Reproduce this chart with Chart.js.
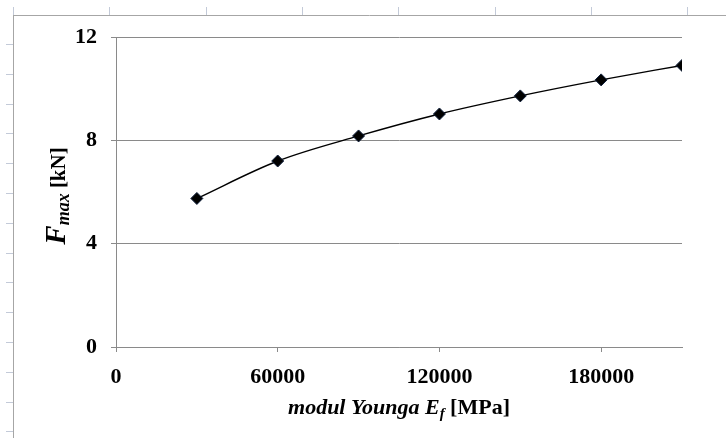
<!DOCTYPE html>
<html>
<head>
<meta charset="utf-8">
<script src="https://cdn.jsdelivr.net/npm/chart.js@4.4.1/dist/chart.umd.min.js"></script>
<style>
  html, body { margin: 0; padding: 0; background: #fff; }
</style>
</head>
<body>
<canvas id="chart" width="726" height="438"></canvas>
<script>
const modulusValues = [30000, 60000, 90000, 120000, 150000, 180000, 210000];
const forceValues = [5.75, 7.2, 8.17, 9.02, 9.72, 10.34, 10.9];
const xTickValues = [0, 60000, 120000, 180000];
const yTickValues = [0, 4, 8, 12];

const serif = "'Liberation Serif', 'Times New Roman', serif";
const gridGray = '#8a8a8a';

// draw a run of text pieces with different fonts, centred on x
function drawParts(ctx, parts, cx, baseY) {
  let total = 0;
  parts.forEach(p => { ctx.font = p.font; total += ctx.measureText(p.text).width; });
  let x = cx - total / 2;
  parts.forEach(p => {
    ctx.font = p.font;
    ctx.fillText(p.text, x, baseY + (p.dy || 0));
    x += ctx.measureText(p.text).width;
  });
}

// the spreadsheet edge around the chart
const sheetFrame = {
  id: 'sheetFrame',
  beforeDraw(chart) {
    const ctx = chart.ctx;
    ctx.save();
    ctx.lineWidth = 1;
    ctx.strokeStyle = '#c3cad8';
    for (let x = 13; x < 726; x += 96.3) {
      ctx.beginPath(); ctx.moveTo(Math.round(x) + 0.5, 7); ctx.lineTo(Math.round(x) + 0.5, 15); ctx.stroke();
    }
    for (let y = 44; y < 438; y += 29.8) {
      ctx.beginPath(); ctx.moveTo(6, Math.round(y) + 0.5); ctx.lineTo(13, Math.round(y) + 0.5); ctx.stroke();
    }
    ctx.strokeStyle = '#a6a6a6';
    ctx.beginPath(); ctx.moveTo(13, 15.5); ctx.lineTo(726, 15.5); ctx.stroke();
    ctx.beginPath(); ctx.moveTo(13.5, 15); ctx.lineTo(13.5, 438); ctx.stroke();
    ctx.restore();
  }
};

const axisTitles = {
  id: 'axisTitles',
  afterDraw(chart) {
    const ctx = chart.ctx;
    const area = chart.chartArea;
    ctx.save();
    ctx.fillStyle = '#000';
    ctx.textBaseline = 'alphabetic';
    drawParts(ctx, [
      { text: 'modul Younga E', font: `italic bold 22px ${serif}` },
      { text: 'f', font: `italic bold 15px ${serif}`, dy: 4 },
      { text: ' [MPa]', font: `bold 22px ${serif}` }
    ], (area.left + area.right) / 2, 414);

    ctx.translate(65, (area.top + area.bottom) / 2 + 4);
    ctx.rotate(-Math.PI / 2);
    drawParts(ctx, [
      { text: 'F', font: `italic bold 29px ${serif}` },
      { text: 'max', font: `italic bold 18px ${serif}`, dy: 4 },
      { text: ' [kN]', font: `bold 21px ${serif}` }
    ], 0, 0);
    ctx.restore();
  }
};

new Chart(document.getElementById('chart'), {
  type: 'line',
  data: {
    labels: modulusValues,
    datasets: [{
      data: modulusValues.map((x, i) => ({ x: x, y: forceValues[i] })),
      borderColor: '#000',
      borderWidth: 1.4,
      cubicInterpolationMode: 'monotone',
      pointStyle: 'rectRot',
      pointRadius: 6,
      pointBackgroundColor: '#000',
      pointBorderColor: '#10203c',
      pointBorderWidth: 1
    }]
  },
  options: {
    responsive: false,
    animation: false,
    devicePixelRatio: 1,
    layout: { padding: { top: 37, right: 44, left: 0, bottom: 0 } },
    plugins: { legend: { display: false }, tooltip: { enabled: false } },
    scales: {
      x: {
        type: 'linear',
        min: 0,
        max: 210000,
        afterBuildTicks: s => { s.ticks = xTickValues.map(v => ({ value: v })); },
        afterFit: s => { s.height = 91; },
        grid: { drawOnChartArea: false, color: gridGray, tickLength: 5, tickColor: gridGray },
        border: { color: gridGray, width: 1 },
        ticks: {
          padding: 12,
          color: '#000',
          font: { family: serif, size: 22, weight: 'bold' },
          maxRotation: 0,
          callback: v => String(v)
        }
      },
      y: {
        min: 0,
        max: 12,
        afterBuildTicks: s => { s.ticks = yTickValues.map(v => ({ value: v })); },
        afterFit: s => { s.width = 116; },
        grid: { color: gridGray, tickLength: 5, tickColor: gridGray },
        border: { color: gridGray, width: 1 },
        ticks: {
          padding: 14,
          color: '#000',
          font: { family: serif, size: 22, weight: 'bold' },
          callback: v => String(v)
        }
      }
    }
  },
  plugins: [sheetFrame, axisTitles]
});
</script>
</body>
</html>
